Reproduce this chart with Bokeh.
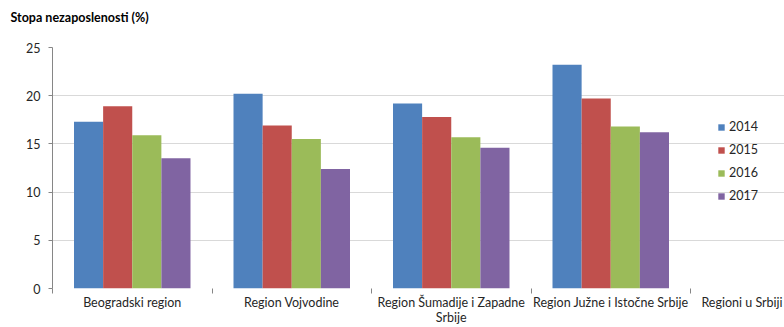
import numpy as np
from bokeh.plotting import figure
from bokeh.models import (ColumnDataSource, FixedTicker, Legend, LegendItem,
                          Grid, Range1d, Title)
from bokeh.transform import dodge
from bokeh.embed import file_html
from bokeh.resources import INLINE

categories = ["Beogradski region", "Region Vojvodine",
              "Region Šumadije i Zapadne\nSrbije", "Region Južne i Istočne Srbije"]
years = ["2014", "2015", "2016", "2017"]
v2014 = [17.3, 20.2, 19.2, 23.2]
v2015 = [18.9, 16.9, 17.8, 19.7]
v2016 = [15.9, 15.5, 15.7, 16.8]
v2017 = [13.5, 12.4, 14.6, 16.2]
y_ticks = [0, 5, 10, 15, 20, 25]
x_title = "Regioni u Srbiji"
y_title = "Stopa nezaposlenosti (%)"
colors = ["#4f81bd", "#c0504d", "#9bbb59", "#8064a2"]

FONT = "Lato"
n = len(categories)
centers = np.arange(n) + 0.5
src = ColumnDataSource(dict(x=centers, y2014=v2014, y2015=v2015,
                            y2016=v2016, y2017=v2017))

# frame is widened to the right edge so that the legend and the axis name
# can sit beside the bars; grids / baseline are bounded to the categories
x_end = n * 732 / 638
p = figure(width=784, height=327, output_backend="svg", toolbar_location=None,
           x_range=Range1d(0, x_end), y_range=Range1d(0, 25),
           min_border_left=52, min_border_right=0, min_border_top=47,
           min_border_bottom=39)
p.outline_line_color = None
p.background_fill_color = "white"

bw = 0.1826
offsets = [-1.5 * bw, -0.5 * bw, 0.5 * bw, 1.5 * bw]
items = []
for yr, c, off in zip(years, colors, offsets):
    r = p.vbar(x=dodge("x", off, range=p.x_range), top="y" + yr, width=bw,
               source=src, fill_color=c, line_color=None)
    items.append(LegendItem(label=yr, renderers=[r]))

# x axis: labels at category centres, tick marks at category boundaries
name_pos = n + (741.5 - 690) / 159.5
xa = p.xaxis[0]
xa.ticker = FixedTicker(ticks=list(centers) + [name_pos],
                        minor_ticks=list(range(n + 1)))
overrides = {float(c): lab for c, lab in zip(centers, categories)}
overrides[float(name_pos)] = x_title
xa.major_label_overrides = overrides
xa.major_tick_out = 0
xa.major_tick_in = 0
xa.minor_tick_out = 5
xa.minor_tick_in = 0
xa.minor_tick_line_color = "#868686"
xa.axis_line_color = None
xa.major_label_text_font = FONT
xa.major_label_text_font_size = "12.5px"
xa.major_label_text_color = "#262626"
xa.major_label_standoff = 1
xa.major_label_text_line_height = 1.0

ya = p.yaxis[0]
ya.ticker = FixedTicker(ticks=y_ticks)
ya.major_tick_out = 4
ya.major_tick_in = 0
ya.minor_tick_line_color = None
ya.major_tick_line_color = "#868686"
ya.axis_line_color = "#868686"
ya.major_label_text_font = FONT
ya.major_label_text_font_size = "12.5px"
ya.major_label_text_color = "#262626"
ya.major_label_standoff = 8

p.xgrid.grid_line_color = None
p.ygrid.grid_line_color = "#d9d9d9"
p.ygrid.ticker = FixedTicker(ticks=y_ticks[1:])
p.ygrid.bounds = (0, n)
p.add_layout(Grid(dimension=1, ticker=FixedTicker(ticks=[0]), bounds=(0, n),
                  grid_line_color="#868686"))

# spacer between the frame and the title (pushes the title upward)
p.add_layout(Title(text=" ", text_font_size="1px", standoff=10), "above")

# title
p.title.text = y_title
p.title.text_font = FONT
p.title.text_font_size = "12.5px"
p.title.text_font_style = "bold"
p.title.text_color = "#000000"
p.title.align = "left"
p.title.vertical_align = "top"
p.title.offset = -42
p.title.standoff = 16

legend = Legend(items=items, location=(665, 85), orientation="vertical",
                glyph_width=8, glyph_height=8, label_standoff=4,
                label_height=15, spacing=8, padding=0, margin=0,
                border_line_color=None, background_fill_alpha=0,
                label_text_font=FONT, label_text_font_size="12.5px",
                label_text_color="#262626")
p.add_layout(legend, "center")

open("out.html", "w").write(file_html(p, INLINE))
